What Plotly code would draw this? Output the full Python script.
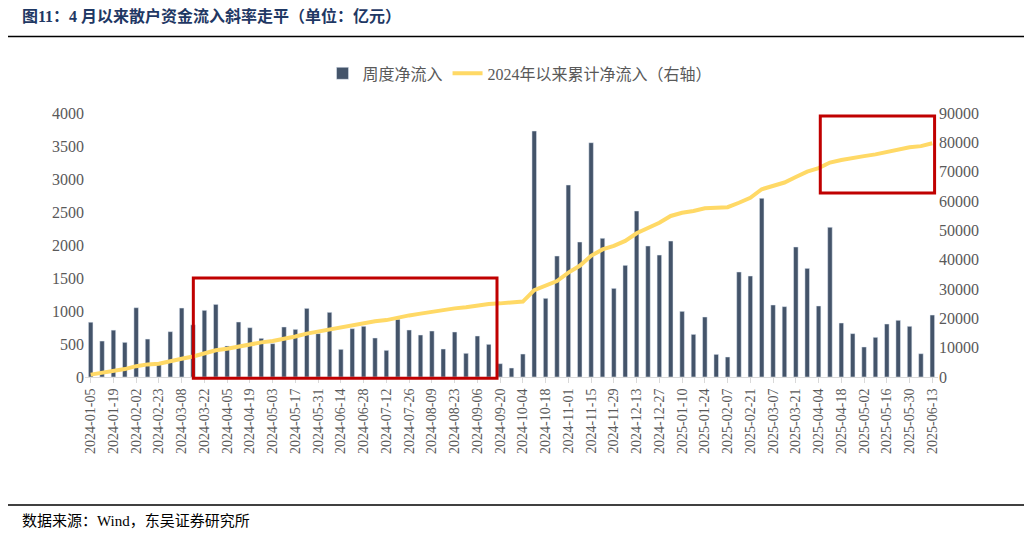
import pandas as pd
import plotly.graph_objects as go

# weekly dates (2024-02-16 week absent in source)
dates = [d.strftime("%Y-%m-%d") for d in pd.date_range("2024-01-05", "2025-06-13", freq="7D")
         if d.strftime("%Y-%m-%d") != "2024-02-16"]

weekly = [830, 545, 710, 525, 1050, 575, 200, 687, 1045, 790,
          1010, 1100, 470, 833, 747, 586, 505, 758, 722, 1040,
          657, 980, 419, 732, 768, 591, 404, 874, 712, 636,
          697, 424, 682, 359, 621, 495, 202, 136, 348, 3727,
          1192, 1833, 2909, 2045, 3550, 2101, 1343, 1692, 2515, 1985,
          1848, 2060, 995, 646, 909, 343, 303, 1591, 1530, 2707,
          1091, 1066, 1970, 1646, 1076, 2268, 818, 657, 455, 601,
          803, 859, 768, 353, 939]

cumulative = [800, 1400, 2100, 2700, 3700, 4300, 4500, 5200, 6200, 7000,
              8000, 9100, 9600, 10400, 11200, 11800, 12300, 13000, 13800, 14800,
              15500, 16400, 16900, 17700, 18400, 19000, 19400, 20300, 21000, 21600,
              22300, 22700, 23400, 23800, 24400, 24900, 25100, 25300, 25700, 29600,
              31000, 32700, 35600, 37900, 41300, 43500, 44700, 46400, 49000, 50900,
              52600, 54900, 56000, 56600, 57500, 57700, 57900, 59400, 61100, 64000,
              65100, 66300, 68200, 70000, 71200, 73100, 74000, 74800, 75300, 75900,
              76800, 77600, 78300, 78700, 79700]

serif = "Liberation Serif, Noto Sans CJK SC"
tickvals = dates[::2]

fig = go.Figure()
fig.add_trace(go.Bar(x=dates, y=weekly, name="周度净流入", marker_color="#44546A", width=0.4))
fig.add_trace(go.Scatter(x=dates, y=cumulative, name="2024年以来累计净流入（右轴）", yaxis="y2",
                         mode="lines", line=dict(color="#FFD966", width=4)))

red = dict(color="#C00000", width=3)
fig.add_shape(type="rect", xref="paper", yref="paper", x0=0.127, x1=0.483, y0=-0.005, y1=0.375, line=red)
fig.add_shape(type="rect", xref="paper", yref="paper", x0=0.862, x1=0.996, y0=0.697, y1=0.989, line=red)
fig.add_shape(type="line", xref="paper", yref="paper", x0=-0.094, x1=1.104, y0=1.29, y1=1.29,
              line=dict(color="black", width=1.5))
fig.add_shape(type="line", xref="paper", yref="paper", x0=-0.094, x1=1.104, y0=-0.485, y1=-0.485,
              line=dict(color="black", width=1.5))

fig.add_annotation(xref="paper", yref="paper", x=-0.076, y=1.41, xanchor="left", showarrow=False,
                   text="<b>图11：4 月以来散户资金流入斜率走平（单位：亿元）</b>",
                   font=dict(size=16, color="#1F3864", family=serif))
fig.add_annotation(xref="paper", yref="paper", x=-0.076, y=-0.585, xanchor="left", showarrow=False,
                   text="数据来源：Wind，东吴证券研究所", font=dict(size=15, color="black", family=serif))

fig.update_layout(
    width=1032, height=537,
    margin=dict(l=77, r=102, t=105, b=168),
    paper_bgcolor="white", plot_bgcolor="white",
    font=dict(family=serif, size=16, color="#595959"),
    bargap=0.5,
    showlegend=True,
    legend=dict(orientation="h", x=0.51, y=1.15, xanchor="center", yanchor="middle",
                font=dict(size=16, color="#595959")),
    xaxis=dict(type="category", tickmode="array", tickvals=tickvals, tickangle=-90,
               tickfont=dict(size=14), showline=True, linecolor="#D9D9D9", automargin=False,
               ticks="outside", tickcolor="#D9D9D9", ticklen=5, range=[-0.5, len(dates) - 0.5]),
    yaxis=dict(range=[0, 4000], dtick=500, showgrid=False, zeroline=False, automargin=False,
               tickfont=dict(size=16)),
    yaxis2=dict(range=[0, 90000], dtick=10000, overlaying="y", side="right", showgrid=False,
                zeroline=False, automargin=False, tickformat="d", tickfont=dict(size=16)),
)

fig.write_html("out.html")
